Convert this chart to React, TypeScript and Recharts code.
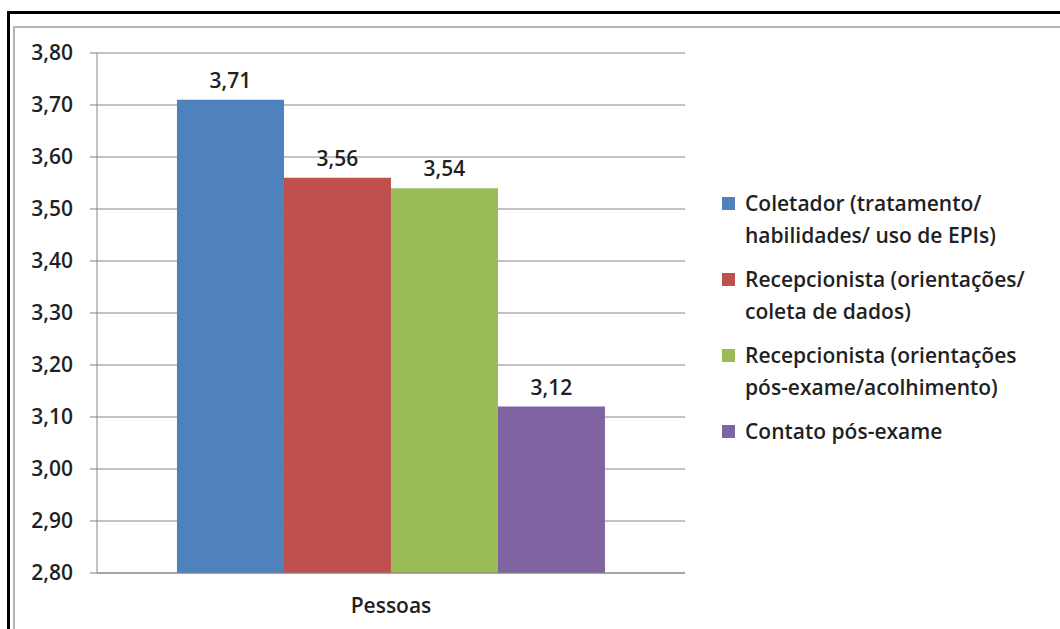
import { Bar, BarChart, CartesianGrid, LabelList, XAxis, YAxis } from 'recharts';

// médias por profissional avaliado
const categorias = ['Pessoas'];
const series = [
  { key: 'coletador', nome: 'Coletador (tratamento/\nhabilidades/ uso de EPIs)', cor: '#4F81BD' },
  { key: 'recepcaoColeta', nome: 'Recepcionista (orientações/\ncoleta de dados)', cor: '#C0504D' },
  { key: 'recepcaoPosExame', nome: 'Recepcionista (orientações\npós-exame/acolhimento)', cor: '#9BBB59' },
  { key: 'contato', nome: 'Contato pós-exame', cor: '#8064A2' },
];
const coletador = [3.71];
const recepcaoColeta = [3.56];
const recepcaoPosExame = [3.54];
const contato = [3.12];
const yTicks = [2.8, 2.9, 3.0, 3.1, 3.2, 3.3, 3.4, 3.5, 3.6, 3.7, 3.8];

const data = categorias.map((c, i) => ({
  categoria: c,
  coletador: coletador[i],
  recepcaoColeta: recepcaoColeta[i],
  recepcaoPosExame: recepcaoPosExame[i],
  contato: contato[i],
}));

const fmt = (v: any) => Number(v).toFixed(2).replace('.', ',');
const FONT = '"Open Sans", Lato, sans-serif';
const TXT = '#1f1f24';
const FS = 21;
const FW = 600;

export default function App() {
  return (
    <div style={{ position: 'fixed', left: 0, top: 0, width: 1060, height: 629, background: '#fff', overflow: 'hidden', fontFamily: FONT }}>
      {/* moldura externa e borda da área do gráfico */}
      <div style={{ position: 'absolute', left: 7, top: 11, width: 1200, height: 800, borderTop: '3px solid #000', borderLeft: '3px solid #000' }} />
      <div style={{ position: 'absolute', left: 13, top: 26, width: 1200, height: 800, borderTop: '2px solid #b4b4b4', borderLeft: '2px solid #b4b4b4' }} />

      <div style={{ position: 'absolute', left: 0, top: 0 }}>
        <BarChart
          width={1060}
          height={629}
          data={data}
          margin={{ top: 53, right: 375, bottom: 26, left: 17 }}
          barCategoryGap="13.6%"
          barGap={0}
        >
          <CartesianGrid vertical={false} stroke="#868686" />
          <XAxis
            dataKey="categoria"
            height={30}
            stroke="#868686"
            tickLine={false}
            tickSize={6}
            tickMargin={19}
            tick={{ fill: TXT, fontSize: FS, fontWeight: FW, fontFamily: FONT }}
          />
          <YAxis
            width={80}
            domain={[2.8, 3.8]}
            ticks={yTicks}
            interval={0}
            stroke="#868686"
            tickSize={7}
            tickMargin={17}
            tickFormatter={fmt}
            tick={{ fill: TXT, fontSize: FS, fontWeight: FW, fontFamily: FONT }}
          />
          {series.map((s) => (
            <Bar key={s.key} dataKey={s.key} fill={s.cor} isAnimationActive={false}>
              <LabelList dataKey={s.key} position="top" offset={12} formatter={fmt} fill={TXT} fontSize={FS} fontWeight={FW} fontFamily={FONT} />
            </Bar>
          ))}
        </BarChart>
      </div>

      {/* legenda */}
      <div style={{ position: 'absolute', left: 722, top: 187, color: TXT, fontSize: FS, fontWeight: FW }}>
        {series.map((s) => (
          <div key={s.key} style={{ display: 'flex', alignItems: 'flex-start', marginBottom: 12 }}>
            <div style={{ width: 13, height: 13, background: s.cor, marginTop: 10, marginRight: 10, flexShrink: 0 }} />
            <div style={{ whiteSpace: 'pre-line', lineHeight: '32px' }}>{s.nome}</div>
          </div>
        ))}
      </div>
    </div>
  );
}
